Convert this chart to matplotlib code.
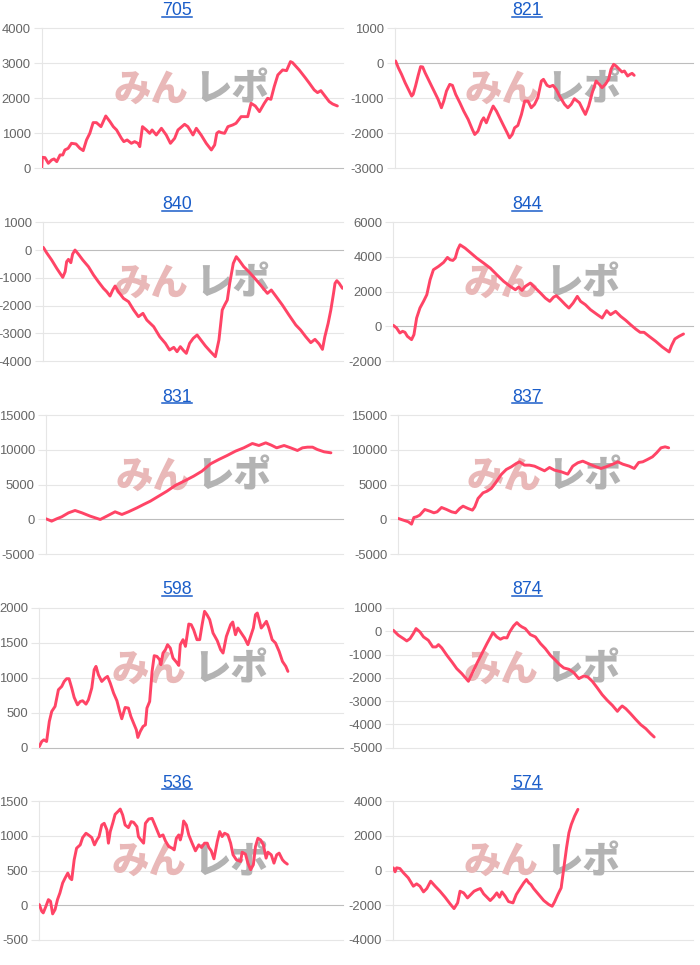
import matplotlib
matplotlib.use('Agg')
import matplotlib.pyplot as plt
from matplotlib.lines import Line2D

plt.rcParams['font.family'] = ['Liberation Sans', 'DejaVu Sans']

# ---------------- data (x = progress of the session 0..100, y = difference) ----------------
titles = ['705', '821', '840', '844', '831', '837', '598', '874', '536', '574']

s705 = [(0, 0), (0.2, 314), (1.1, 305), (2.2, 143), (3.3, 238), (4.1, 267), (5.0, 190), (6.1, 381), (7.0, 381),
        (7.7, 524), (8.8, 571), (9.9, 714), (11.4, 695), (12.7, 571), (13.8, 505), (14.9, 810), (16.0, 1000),
        (17.1, 1305), (18.2, 1305), (19.7, 1190), (21.3, 1495), (22.7, 1333), (23.8, 1190), (24.9, 1095),
        (26.5, 857), (27.3, 762), (28.4, 810), (29.8, 714), (30.9, 762), (32.0, 714), (32.6, 619), (33.5, 1190),
        (34.8, 1095), (35.9, 1000), (36.7, 1095), (38.1, 952), (39.8, 1143), (41.4, 952), (42.8, 714), (44.2, 857),
        (45.3, 1095), (47.5, 1257), (48.6, 1190), (50.3, 952), (51.4, 1143), (53.0, 952), (54.7, 714), (56.4, 524),
        (57.5, 667), (58.2, 1000), (58.9, 1048), (59.7, 1019), (60.8, 1000), (61.9, 1190), (63.5, 1238),
        (64.6, 1286), (66.3, 1476), (68.5, 1476), (69.6, 1857), (71.0, 1781), (72.4, 1619), (74.0, 1857),
        (75.1, 2000), (76.2, 1971), (77.3, 2333), (78.5, 2667), (80.1, 2810), (81.4, 2790), (82.7, 3048),
        (83.4, 3019), (85.6, 2810), (87.6, 2590), (89.0, 2429), (90.6, 2238), (91.7, 2162), (92.8, 2219),
        (93.9, 2095), (95.6, 1905), (96.7, 1838), (98.3, 1781)]

s821 = [(0.2, 67), (1.1, -124), (2.2, -315), (3.4, -554), (4.5, -745), (5.6, -936), (6.1, -888), (6.9, -650),
        (7.8, -344), (8.6, -95), (9.3, -105), (10.1, -267), (11.2, -458), (12.3, -650), (13.4, -840), (14.5, -1031),
        (15.6, -1270), (16.4, -1079), (17.3, -793), (18.4, -602), (19.3, -630), (20.4, -888), (21.8, -1127),
        (23.1, -1366), (24.6, -1605), (26.0, -1891), (26.8, -2034), (27.9, -1939), (29.1, -1652), (29.8, -1557),
        (30.7, -1700), (31.8, -1461), (33.0, -1222), (34.1, -1366), (35.2, -1557), (36.3, -1748), (37.7, -1986),
        (38.5, -2130), (39.4, -2034), (40.2, -1843), (41.3, -1776), (42.5, -1461), (43.6, -1079), (44.7, -1079),
        (45.8, -1270), (46.9, -1175), (48.0, -983), (49.2, -506), (49.9, -458), (51.1, -630), (52.0, -668),
        (53.1, -630), (54.2, -745), (55.3, -936), (57.0, -1175), (58.1, -1270), (59.2, -1175), (60.3, -1012),
        (62.0, -1127), (63.1, -1318), (64.0, -1461), (65.1, -1222), (66.3, -840), (67.6, -506), (68.7, -602),
        (69.6, -697), (70.7, -602), (71.8, -458), (72.6, -172), (73.5, -29), (74.3, -76), (75.4, -172),
        (76.3, -248), (77.1, -220), (78.2, -363), (79.0, -315), (79.7, -287), (80.4, -344)]

s840 = [(0, 96), (1.1, -96), (2.8, -360), (4.5, -661), (6.5, -985), (7.3, -781), (7.8, -420), (8.4, -336),
        (9.2, -456), (9.8, -144), (10.6, 0), (11.7, -144), (13.2, -360), (15.1, -601), (16.8, -901), (18.4, -1141),
        (20.1, -1381), (21.2, -1502), (22.3, -1658), (23.2, -1441), (24.0, -1297), (25.1, -1502), (26.8, -1742),
        (28.5, -1862), (30.2, -2162), (31.8, -2402), (33.3, -2282), (34.6, -2523), (36.9, -2763), (38.9, -3123),
        (40.8, -3363), (42.2, -3604), (43.6, -3507), (44.7, -3664), (45.8, -3483), (46.9, -3627), (47.8, -3724),
        (48.9, -3363), (50.1, -3183), (51.4, -3063), (52.5, -3219), (54.2, -3459), (55.9, -3664), (57.5, -3844),
        (58.7, -3243), (59.8, -2162), (60.6, -1982), (61.5, -1802), (62.3, -1201), (63.5, -480), (64.5, -240),
        (65.4, -360), (67.0, -601), (68.7, -781), (70.4, -985), (72.6, -1261), (74.9, -1562), (76.2, -1441),
        (77.7, -1658), (79.9, -1982), (82.1, -2342), (84.4, -2703), (86.0, -2883), (87.7, -3123), (89.4, -3339),
        (90.8, -3219), (92.2, -3387), (93.3, -3580), (94.1, -3123), (95.2, -2643), (96.1, -2162), (97.0, -1562),
        (97.5, -1201), (98.1, -1105), (98.9, -1201), (100, -1381)]

s844 = [(0, 58), (1.1, -96), (2.2, -384), (3.1, -288), (3.9, -345), (4.7, -576), (6.1, -768), (6.9, -480),
        (7.8, 480), (8.9, 1056), (10.1, 1440), (11.2, 1823), (12.3, 2687), (13.4, 3263), (15.1, 3455),
        (16.8, 3685), (18.1, 3973), (19.0, 3839), (19.9, 3800), (20.7, 3935), (21.5, 4415), (22.3, 4702),
        (24.0, 4510), (25.7, 4261), (27.9, 3935), (30.2, 3647), (32.4, 3359), (34.6, 2975), (36.9, 2591),
        (39.1, 2303), (40.8, 2111), (41.9, 2265), (43.0, 2073), (44.1, 2303), (45.8, 2495), (47.5, 2207),
        (49.2, 1919), (50.8, 1631), (52.3, 1440), (53.6, 1689), (54.5, 1766), (55.9, 1536), (57.5, 1248),
        (58.7, 1056), (60.1, 1344), (61.5, 1727), (62.6, 1440), (64.2, 1248), (65.9, 960), (68.2, 672),
        (69.8, 480), (71.3, 902), (72.6, 672), (74.3, 864), (76.0, 576), (77.7, 345), (79.3, 96), (81.0, -154),
        (82.5, -345), (83.8, -345), (85.5, -576), (87.7, -864), (89.9, -1190), (92.2, -1478), (93.0, -1113),
        (94.1, -729), (95.5, -576), (97.0, -441)]

s831 = [(0, 96), (1.9, -239), (3.6, 96), (5.3, 383), (7.6, 957), (9.8, 1292), (12.1, 957), (14.9, 478),
        (18.3, 0), (20.5, 478), (23.3, 1100), (25.6, 718), (27.8, 1100), (30.7, 1675), (32.9, 2153), (35.2, 2632),
        (38.0, 3350), (40.8, 4067), (43.6, 4881), (47.0, 5598), (49.8, 6220), (52.6, 6938), (55.5, 7991),
        (58.3, 8613), (61.1, 9187), (63.9, 9809), (66.7, 10287), (69.6, 10909), (71.8, 10622), (74.1, 11005),
        (76.0, 10670), (77.8, 10287), (80.3, 10622), (82.5, 10287), (84.8, 9905), (86.5, 10287), (88.2, 10383),
        (89.9, 10383), (91.5, 10048), (93.8, 9713), (96.1, 9570)]

s837 = [(0, 144), (1.7, -96), (3.4, -335), (4.5, -670), (5.3, 287), (6.2, 383), (7.3, 622), (9.0, 1435),
        (10.7, 1196), (12.1, 957), (13.2, 1100), (14.7, 1723), (16.4, 1435), (18.1, 1100), (19.5, 957),
        (20.9, 1579), (22.0, 1914), (23.7, 1579), (25.2, 1340), (26.0, 1818), (27.1, 3015), (28.8, 3828),
        (30.2, 4067), (31.6, 4450), (33.3, 5407), (35.0, 6460), (36.7, 7178), (38.4, 7560), (40.1, 8039),
        (41.2, 8278), (42.9, 7799), (44.6, 7799), (46.3, 7656), (48.0, 7321), (49.7, 6986), (51.4, 7464),
        (53.1, 7082), (55.4, 6843), (57.6, 6508), (59.3, 7656), (61.0, 8134), (62.7, 8374), (65.0, 7943),
        (67.2, 7560), (68.9, 7321), (70.6, 7560), (72.9, 7943), (74.6, 8278), (76.3, 7943), (78.5, 7656),
        (80.2, 7321), (81.7, 8182), (83.1, 8278), (84.7, 8613), (86.4, 8996), (87.8, 9570), (89.3, 10287),
        (90.7, 10431), (91.9, 10287)]

s598 = [(0, 14), (0.8, 86), (1.5, 110), (2.4, 86), (3.3, 373), (4.1, 517), (5.2, 589), (6.3, 828), (7.4, 876),
        (8.2, 947), (9.0, 986), (9.8, 986), (10.7, 852), (11.5, 718), (12.6, 612), (13.5, 660), (14.3, 670),
        (15.4, 622), (16.2, 684), (17.3, 852), (18.1, 1115), (18.7, 1163), (19.5, 1043), (20.6, 947), (21.7, 995),
        (22.5, 1019), (23.4, 923), (24.5, 780), (25.6, 670), (26.5, 517), (27.2, 412), (28.3, 574), (29.4, 565),
        (30.2, 445), (31.1, 349), (32.0, 254), (32.5, 144), (33.3, 230), (34.2, 301), (35.0, 325), (35.5, 565),
        (36.4, 660), (37.2, 1091), (37.9, 1316), (38.8, 1306), (39.7, 1258), (40.1, 1187), (40.8, 1354),
        (41.6, 1402), (42.3, 1474), (43.2, 1426), (44.1, 1282), (45.2, 1225), (46.0, 1177), (46.5, 1474),
        (47.4, 1546), (48.2, 1450), (49.3, 1770), (50.1, 1761), (50.9, 1689), (52.0, 1546), (52.9, 1546),
        (53.7, 1761), (54.5, 1952), (55.3, 1904), (56.2, 1833), (57.3, 1641), (58.7, 1531), (59.8, 1402),
        (60.6, 1354), (61.7, 1593), (63.1, 1761), (63.8, 1799), (64.7, 1617), (65.5, 1713), (66.6, 1641),
        (67.7, 1570), (68.8, 1474), (69.7, 1593), (70.6, 1713), (71.3, 1904), (71.9, 1928), (72.5, 1833),
        (73.2, 1713), (74.1, 1761), (74.9, 1809), (75.7, 1713), (76.8, 1546), (77.9, 1498), (79.1, 1378),
        (80.2, 1234), (81.3, 1163), (82.0, 1091)]

s874 = [(0, 43), (1.7, -172), (3.4, -316), (4.5, -416), (5.6, -316), (6.7, -100), (7.6, 115), (8.9, -29),
        (10.1, -244), (11.7, -387), (13.2, -674), (14.3, -674), (15.1, -574), (16.2, -717), (17.9, -1033),
        (19.6, -1320), (21.2, -1607), (22.9, -1822), (25.1, -2152), (26.3, -1822), (27.9, -1392), (29.6, -961),
        (31.3, -531), (33.3, -57), (34.6, -244), (35.8, -344), (36.9, -273), (38.0, -287), (38.9, -29),
        (40.2, 230), (41.3, 373), (42.2, 258), (43.0, 187), (44.1, 115), (45.8, -143), (47.5, -244),
        (49.2, -531), (50.8, -746), (52.5, -1033), (54.2, -1248), (55.6, -1435), (57.0, -1578), (58.7, -1636),
        (60.3, -1779), (62.0, -2037), (63.7, -1923), (65.0, -1966), (66.5, -2152), (68.2, -2439), (69.8, -2726),
        (71.5, -2970), (73.2, -3185), (74.9, -3444), (75.8, -3300), (76.5, -3214), (77.7, -3329), (79.3, -3544),
        (81.0, -3788), (82.7, -4018), (84.4, -4190), (86.0, -4405), (87.2, -4549)]

s536 = [(0, 10), (0.8, -86), (1.3, -110), (2.2, -14), (3.0, 81), (3.7, 57), (4.4, -124), (5.2, -62), (6.0, 81),
        (6.8, 177), (7.7, 320), (8.5, 391), (9.4, 463), (10.1, 391), (10.7, 368), (11.5, 654), (12.3, 821),
        (13.5, 869), (14.3, 974), (15.4, 1036), (16.2, 1012), (17.3, 974), (18.2, 869), (19.0, 940), (19.7, 988),
        (20.6, 1155), (21.4, 1179), (22.3, 1084), (22.8, 893), (23.4, 1060), (24.3, 1193), (25.0, 1308),
        (26.1, 1356), (26.7, 1384), (27.5, 1298), (28.3, 1155), (29.4, 1117), (30.3, 1203), (31.1, 1193),
        (32.2, 1131), (32.7, 988), (33.5, 940), (34.4, 893), (35.0, 1179), (36.1, 1241), (37.2, 1250),
        (37.9, 1179), (38.8, 1084), (39.7, 988), (40.8, 1012), (41.6, 926), (42.7, 845), (43.8, 821), (44.5, 797),
        (45.2, 964), (46.0, 1012), (46.5, 940), (47.1, 1036), (47.6, 1212), (48.5, 1155), (49.3, 1012),
        (50.4, 893), (51.5, 783), (52.6, 869), (53.5, 831), (54.5, 893), (55.4, 893), (55.9, 831), (56.7, 783),
        (57.6, 668), (58.7, 917), (59.5, 1060), (60.3, 988), (61.1, 1036), (62.2, 1012), (63.1, 893), (63.9, 726),
        (65.0, 654), (66.4, 630), (66.9, 764), (68.0, 735), (68.8, 606), (69.7, 511), (70.6, 583), (71.3, 845),
        (72.1, 964), (73.0, 940), (73.9, 869), (74.8, 678), (75.4, 764), (76.5, 726), (77.4, 606), (78.3, 726),
        (79.1, 750), (80.2, 654), (80.9, 621), (81.8, 592)]

s574 = [(0, 154), (0.6, -77), (1.1, 154), (2.2, 115), (3.4, -135), (5.0, -423), (6.7, -904), (7.8, -769),
        (8.9, -904), (10.1, -1231), (11.2, -1038), (12.5, -615), (14.0, -904), (15.6, -1192), (17.3, -1538),
        (19.0, -1923), (20.3, -2192), (21.5, -1865), (22.3, -1192), (23.5, -1288), (24.8, -1577), (25.9, -1385),
        (27.0, -1192), (28.2, -1096), (29.1, -1038), (30.2, -1346), (31.3, -1538), (32.4, -1731), (33.5, -1538),
        (34.6, -1288), (35.5, -1538), (36.3, -1231), (37.4, -1481), (38.5, -1788), (40.0, -1865), (41.1, -1385),
        (42.5, -1000), (43.6, -712), (44.5, -519), (45.3, -712), (46.0, -808), (46.9, -1038), (48.6, -1385),
        (50.3, -1731), (52.0, -1962), (53.1, -2058), (53.9, -1808), (55.0, -1385), (56.1, -1000), (57.0, 154),
        (57.9, 1308), (58.7, 2173), (59.5, 2654), (60.6, 3135), (61.7, 3519)]

yticks705 = [0, 1000, 2000, 3000, 4000]
yticks821 = [-3000, -2000, -1000, 0, 1000]
yticks840 = [-4000, -3000, -2000, -1000, 0, 1000]
yticks844 = [-2000, 0, 2000, 4000, 6000]
yticks831 = [-5000, 0, 5000, 10000, 15000]
yticks837 = [-5000, 0, 5000, 10000, 15000]
yticks598 = [0, 500, 1000, 1500, 2000]
yticks874 = [-5000, -4000, -3000, -2000, -1000, 0, 1000]
yticks536 = [-500, 0, 500, 1000, 1500]
yticks574 = [-4000, -2000, 0, 2000, 4000]

series = [s705, s821, s840, s844, s831, s837, s598, s874, s536, s574]
ticks = [yticks705, yticks821, yticks840, yticks844, yticks831, yticks837,
         yticks598, yticks874, yticks536, yticks574]

# ---------------- layout ----------------
W, H = 700, 965
fig = plt.figure(figsize=(W / 100, H / 100), dpi=100)
fig.patch.set_facecolor('white')

rows = [(28.3, 168.3), (222.3, 361.0), (415.0, 554.3), (608.0, 747.5), (801.0, 940.0)]
xl = [(41.7, 342.5), (43.3, 342.5), (46.0, 342.5), (39.3, 342.5), (39.3, 342.5)]
xr = [(395.0, 692.5), (393.3, 692.5), (398.3, 692.5), (393.3, 692.5), (393.3, 692.5)]

LINE = '#ff4466'
GRID = '#e6e6e6'
ZERO = '#bdbdbd'
TITLE = '#1a5dc9'
CJK = ['Noto Sans CJK JP', 'DejaVu Sans']

title_texts = []
for i, (data, tk, title) in enumerate(zip(series, ticks, titles)):
    r, c = divmod(i, 2)
    yt, yb = rows[r]
    x0, x1 = (xl if c == 0 else xr)[r]
    ax = fig.add_axes([x0 / W, 1 - yb / H, (x1 - x0) / W, (yb - yt) / H])
    ax.set_facecolor('none')
    xs = [p[0] for p in data]
    ys = [p[1] for p in data]
    ax.plot(xs, ys, color=LINE, lw=2.1, solid_joinstyle='round', solid_capstyle='round', zorder=4)
    ax.set_xlim(0, 100)
    ax.set_ylim(tk[0], tk[-1])
    ax.set_xticks([])
    ax.set_yticks(tk)
    ax.set_yticklabels([str(v) for v in tk])
    ax.tick_params(axis='y', length=6, width=0.8, color=GRID, labelcolor='#666666',
                   labelsize=9.4, pad=2)
    for s in ['top', 'right', 'bottom']:
        ax.spines[s].set_visible(False)
    ax.spines['left'].set_color(GRID)
    ax.spines['left'].set_linewidth(0.8)
    ax.yaxis.grid(True, color=GRID, lw=0.8)
    ax.set_axisbelow(True)
    for t, v in zip(ax.yaxis.get_major_ticks(), tk):
        t.gridline.set_clip_on(False)
        if v == 0:
            t.gridline.set_color(ZERO)
            t.tick1line.set_color(ZERO)
    # watermark
    ax.text(0.487, 0.56, 'みん', transform=ax.transAxes, ha='right', va='center',
            fontsize=27, fontweight='black', color='#e9b8b8', family=CJK, zorder=2)
    ax.text(0.507, 0.56, 'レポ', transform=ax.transAxes, ha='left', va='center',
            fontsize=27, fontweight='black', color='#b3b3b3', family=CJK, zorder=2)
    # title
    cx = 177 if c == 0 else 527
    tt = fig.text(cx / W, 1 - (yt - 13.5) / H, title, ha='center', va='baseline',
                  color=TITLE, fontsize=12.8)
    title_texts.append((tt, yt))

fig.canvas.draw()
renderer = fig.canvas.get_renderer()
for tt, yt in title_texts:
    bb = tt.get_window_extent(renderer)
    yline = 1 - (yt - 11.6) / H
    fig.add_artist(Line2D([bb.x0 / W, bb.x1 / W], [yline, yline], transform=fig.transFigure,
                          color=TITLE, lw=1.1))

fig.savefig('out.png', dpi=100, facecolor='white')
